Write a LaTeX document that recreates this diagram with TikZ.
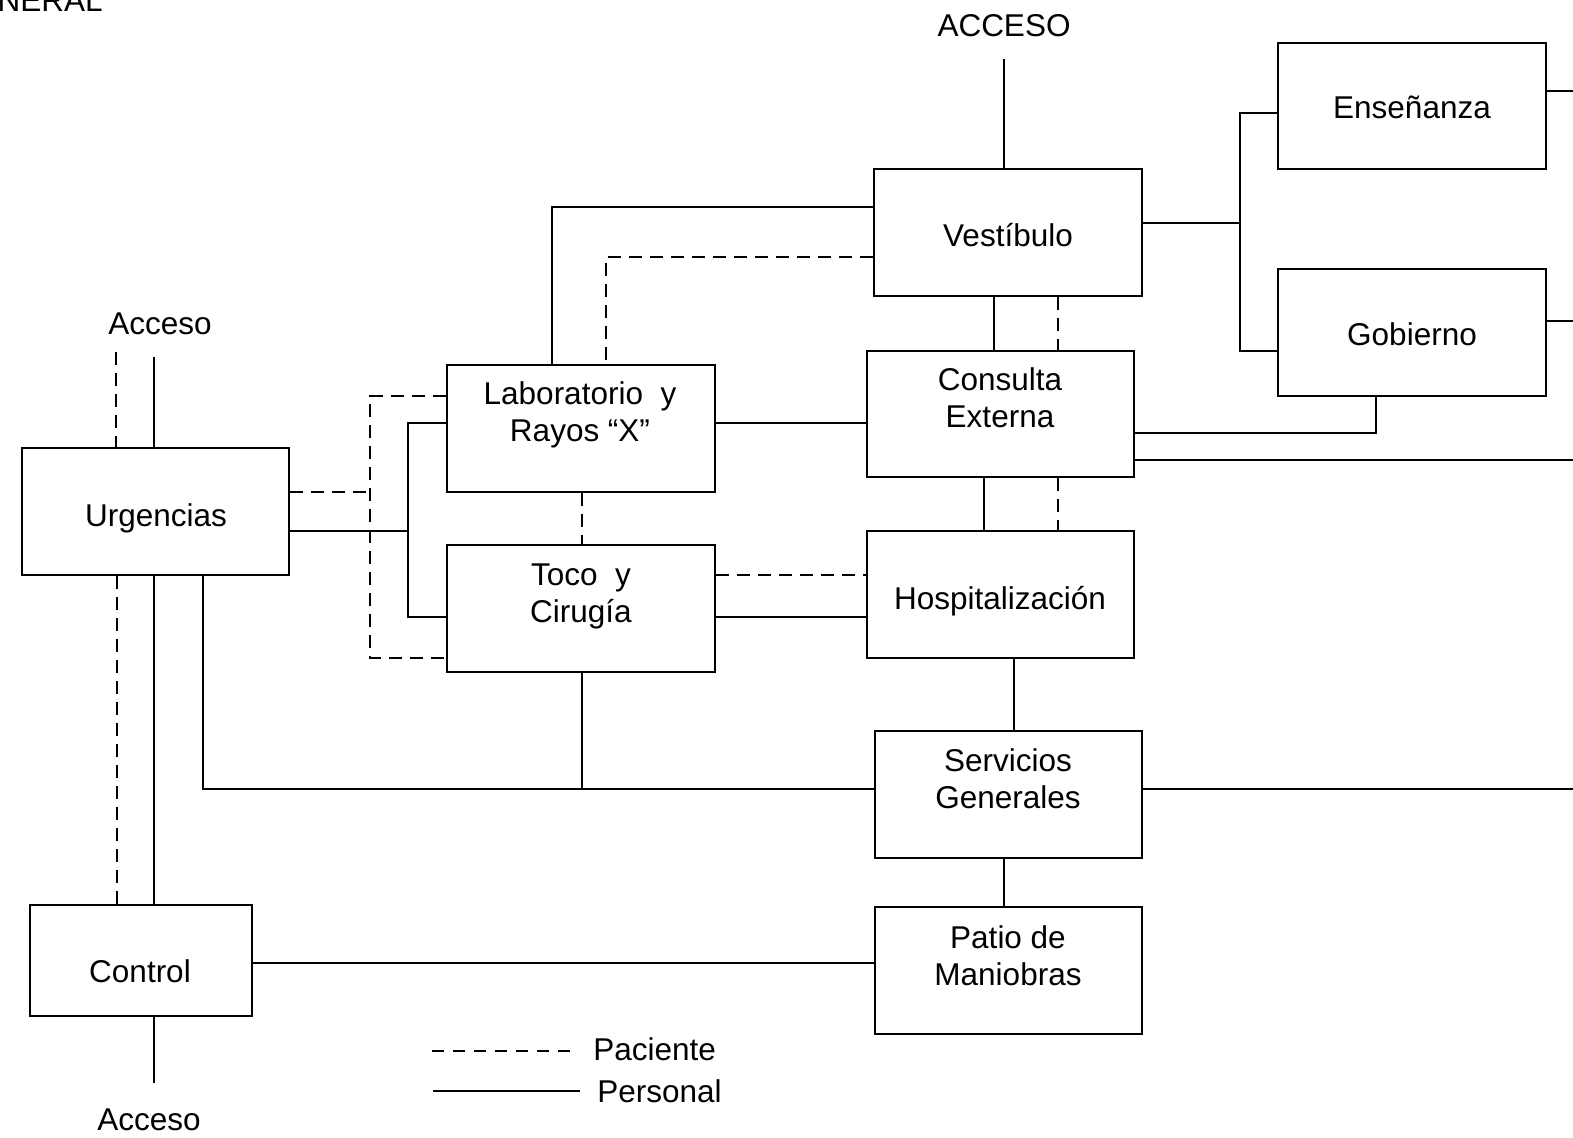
\documentclass[tikz,border=0pt]{standalone}
\usepackage{fontspec}
\setmainfont{Liberation Sans}
\usetikzlibrary{calc}
\begin{document}
\begin{tikzpicture}[x=0.5pt,y=-0.5pt,
  box/.style={draw, line width=1.1pt, inner sep=0pt},
  bx/.style 2 args={box, minimum width=#1*0.5pt, minimum height=#2*0.5pt},
  txt/.style={font=\fontsize{15.75}{18.5}\selectfont, align=center, inner sep=0pt, anchor=base},
  pers/.style={line width=0.9pt},
  pac/.style={line width=0.9pt, dash pattern=on 6.5pt off 4pt}]
\useasboundingbox (0,0) rectangle (1573,1138);
\clip (0,0) rectangle (1573,1138);
% boxes
\node[bx={268}{126}] (ens) at (1412,106) {};
\node[bx={268}{127}] (gob) at (1412,332.5) {};
\node[bx={268}{127}] (vest) at (1008,232.5) {};
\node[bx={267}{126}] (cons) at (1000.5,414) {};
\node[bx={267}{127}] (hosp) at (1000.5,594.5) {};
\node[bx={267}{127}] (serv) at (1008.5,794.5) {};
\node[bx={267}{127}] (patio) at (1008.5,970.5) {};
\node[bx={268}{127}] (lab) at (581,428.5) {};
\node[bx={268}{127}] (toco) at (581,608.5) {};
\node[bx={267}{127}] (urg) at (155.5,511.5) {};
\node[bx={222}{111}] (ctrl) at (141,960.5) {};
% texts (base = baseline of last line)
\node[txt] (ensT) at (1412,119) {Enseñanza};
\node[txt] (gobT) at (1412,346) {Gobierno};
\node[txt] (vestT) at (1008,247) {Vestíbulo};
\node[txt] (consT) at (1000,428) {Consulta\\Externa};
\node[txt] (hospT) at (1000,609) {Hospitalización};
\node[txt] (servT) at (1008,808) {Servicios\\Generales};
\node[txt] (patioT) at (1008,985) {Patio de\\Maniobras};
\node[txt] (labT) at (580,442) {Laboratorio\ \ y\\Rayos “X”};
\node[txt] (tocoT) at (581,622) {Toco\ \ y\\Cirugía};
\node[txt] (urgT) at (156,527) {Urgencias};
\node[txt] (ctrlT) at (140,982) {Control};
\node[txt] (acc1) at (1004,37) {ACCESO};
\node[txt] (acc2) at (160,335) {Acceso};
\node[txt] (acc3) at (149,1130) {Acceso};
\node[txt, anchor=base west] (pacT) at (593,1060) {Paciente};
\node[txt, anchor=base west] (perT) at (597,1102) {Personal};
\node[txt, anchor=base east] (title) at (103,12) {GENERAL};
% connectors
\coordinate (accTop) at (1004,59);
\draw[pers] (accTop) -- (accTop |- vest.north);
\coordinate (vj) at (1240,223);
\draw[pers] (vest.east |- vj) -- (vj);
\coordinate (vjT) at (1240,113);
\coordinate (vjB) at (1240,351);
\draw[pers] (ens.west |- vjT) -- (vjT) -- (vjB) -- (gob.west |- vjB);
\coordinate (ensR) at (1573,91);
\draw[pers] (ens.east |- ensR) -- (ensR);
\coordinate (gobR) at (1573,321);
\draw[pers] (gob.east |- gobR) -- (gobR);
\coordinate (vl) at (552,207);
\draw[pers] (vest.west |- vl) -- (vl) -- (vl |- lab.north);
\coordinate (vld) at (606,257);
\draw[pac] (vest.west |- vld) -- (vld) -- (vld |- lab.north);
\coordinate (vc1) at (994,0);
\draw[pers] (vc1 |- vest.south) -- (vc1 |- cons.north);
\coordinate (vc2) at (1058,0);
\draw[pac] (vc2 |- vest.south) -- (vc2 |- cons.north);
\coordinate (gc) at (1376,433);
\draw[pers] (gc |- gob.south) -- (gc) -- (cons.east |- gc);
\coordinate (cR) at (1573,460);
\draw[pers] (cons.east |- cR) -- (cR);
\coordinate (ch1) at (984,0);
\draw[pers] (ch1 |- cons.south) -- (ch1 |- hosp.north);
\coordinate (ch2) at (1058,0);
\draw[pac] (ch2 |- cons.south) -- (ch2 |- hosp.north);
\coordinate (hs) at (1014,0);
\draw[pers] (hs |- hosp.south) -- (hs |- serv.north);
\coordinate (sp) at (1004,0);
\draw[pers] (sp |- serv.south) -- (sp |- patio.north);
\coordinate (sR) at (1573,789);
\draw[pers] (serv.east |- sR) -- (sR);
\coordinate (lc) at (0,423);
\draw[pers] (lab.east |- lc) -- (cons.west |- lc);
\coordinate (th1) at (0,575);
\draw[pac] (toco.east |- th1) -- (hosp.west |- th1);
\coordinate (th2) at (0,617);
\draw[pers] (toco.east |- th2) -- (hosp.west |- th2);
\coordinate (lt) at (582,0);
\draw[pac] (lt |- lab.south) -- (lt |- toco.north);
% urgencias paciente
\coordinate (ud) at (370,492);
\draw[pac] (urg.east |- ud) -- (ud);
\coordinate (udT) at (370,396);
\coordinate (udB) at (370,658);
\draw[pac] (lab.west |- udT) -- (udT) -- (udB) -- (toco.west |- udB);
% urgencias personal
\coordinate (us) at (408,531);
\draw[pers] (urg.east |- us) -- (us);
\coordinate (usT) at (408,423);
\coordinate (usB) at (408,617);
\draw[pers] (lab.west |- usT) -- (usT) -- (usB) -- (toco.west |- usB);
% urgencias acceso
\coordinate (ua1) at (116,352);
\draw[pac] (ua1) -- (ua1 |- urg.north);
\coordinate (ua2) at (154,357);
\draw[pers] (ua2) -- (ua2 |- urg.north);
% urgencias - control
\coordinate (uc1) at (117,0);
\draw[pac] (uc1 |- urg.south) -- (uc1 |- ctrl.north);
\coordinate (uc2) at (154,0);
\draw[pers] (uc2 |- urg.south) -- (uc2 |- ctrl.north);
% urgencias - servicios
\coordinate (usv) at (203,789);
\draw[pers] (usv |- urg.south) -- (usv) -- (serv.west |- usv);
\coordinate (tj) at (582,789);
\draw[pers] (tj |- toco.south) -- (tj);
% control
\coordinate (cp) at (0,963);
\draw[pers] (ctrl.east |- cp) -- (patio.west |- cp);
\coordinate (cb) at (154,1083);
\draw[pers] (cb |- ctrl.south) -- (cb);
% legend
\coordinate (lg1a) at (432,1051);
\coordinate (lg1b) at (579,1051);
\draw[pac, dash pattern=on 6pt off 4.5pt] (lg1a) -- (lg1b);
\coordinate (lg2a) at (433,1091);
\coordinate (lg2b) at (580,1091);
\draw[pers] (lg2a) -- (lg2b);
\end{tikzpicture}
\end{document}
